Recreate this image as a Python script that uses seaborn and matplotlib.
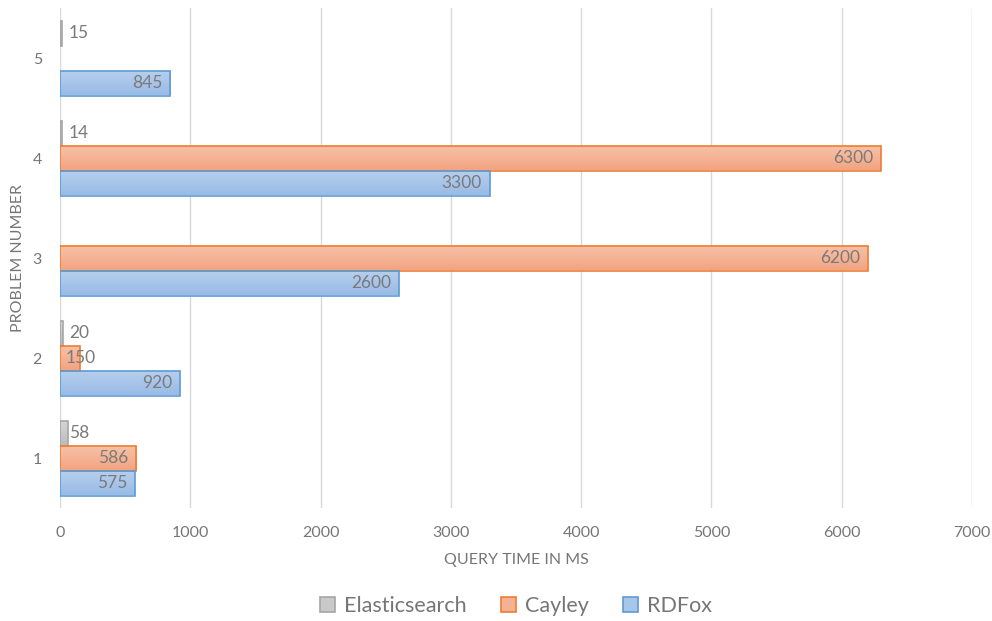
import matplotlib
matplotlib.use("Agg")
import matplotlib.pyplot as plt
import seaborn as sns
import numpy as np
import pandas as pd
from matplotlib.patches import Patch
from matplotlib.colors import to_rgb
from matplotlib.transforms import offset_copy

problems = ["1", "2", "3", "4", "5"]
elasticsearch = [58, 20, np.nan, 14, 15]
cayley = [586, 150, 6200, 6300, np.nan]
rdfox = [575, 920, 2600, 3300, 845]
series_names = ["Elasticsearch", "Cayley", "RDFox"]
x_ticks = [0, 1000, 2000, 3000, 4000, 5000, 6000, 7000]

face = {"Elasticsearch": "#c9c9c9", "Cayley": "#f4b294", "RDFox": "#a8c5ea"}
grad_top = {"Elasticsearch": "#d6d6d6", "Cayley": "#f7c2a8", "RDFox": "#b7cfee"}
grad_bot = {"Elasticsearch": "#bcbcbc", "Cayley": "#f2a482", "RDFox": "#99bbe6"}
edge = {"Elasticsearch": "#a5a5a5", "Cayley": "#ed7d31", "RDFox": "#5b9bd5"}

rows = []
for p, e, c, r in zip(problems, elasticsearch, cayley, rdfox):
    rows.append({"problem": p, "series": "Elasticsearch", "value": e})
    rows.append({"problem": p, "series": "Cayley", "value": c})
    rows.append({"problem": p, "series": "RDFox", "value": r})
df = pd.DataFrame(rows)

sns.set_theme(style="white")
plt.rcParams["font.family"] = ["Lato", "DejaVu Sans"]

text_col = "#767676"

fig = plt.figure(figsize=(9.92, 6.21), dpi=100)
ax = fig.add_axes([60 / 992, 1 - 508 / 621, 912 / 992, 500 / 621])

order = problems[::-1]
sns.barplot(data=df, x="value", y="problem", hue="series", order=order,
            hue_order=series_names, orient="h", width=0.75, ax=ax,
            palette=face, saturation=1, legend=False, zorder=3)

ax.set_xlim(0, 7000)
ax.set_ylim(4.5, -0.5)

# gradient fill + edge per series
for cont, name in zip(ax.containers, series_names):
    c1 = np.array(to_rgb(grad_top[name]))
    c2 = np.array(to_rgb(grad_bot[name]))
    tgrid = np.linspace(0, 1, 64)[:, None, None]
    img = c1 * (1 - tgrid) + c2 * tgrid
    img = np.repeat(img, 2, axis=1)
    for bar in cont:
        w = bar.get_width()
        if not np.isfinite(w):
            continue
        bar.set_edgecolor(edge[name])
        bar.set_linewidth(1.2)
        bar.set_facecolor("none")
        y0 = bar.get_y()
        h = bar.get_height()
        im = ax.imshow(img, extent=(bar.get_x(), bar.get_x() + w, y0 + h, y0),
                       aspect="auto", origin="upper", zorder=2.9, interpolation="bilinear")
        im.set_clip_path(bar)

ax.set_xlim(0, 7000)
ax.set_ylim(4.5, -0.5)
ax.set_xticks(x_ticks)
ax.set_xticklabels([str(t) for t in x_ticks])
ax.grid(axis="x", color="#d9d9d9", linewidth=1, zorder=0)
ax.grid(axis="y", visible=False)
ax.set_axisbelow(True)
for s in ax.spines.values():
    s.set_visible(False)
ax.tick_params(axis="both", length=0, labelsize=11.5, colors=text_col)
ax.tick_params(axis="x", pad=13)
ax.tick_params(axis="y", pad=13)
ax.set_xlabel("QUERY TIME IN MS", fontsize=11.5, color=text_col)
ax.set_ylabel("PROBLEM NUMBER", fontsize=11.5, color=text_col)
ax.xaxis.set_label_coords(0.5, -(553 - 508) / 500, transform=ax.transAxes)
ax.xaxis.label.set_va("top")
ax.yaxis.set_label_coords(-(60 - 25) / 912, 0.5)

# data labels
fig.canvas.draw()
renderer = fig.canvas.get_renderer()
for cont, name in zip(ax.containers, series_names):
    for bar in cont:
        w = bar.get_width()
        if not np.isfinite(w):
            continue
        yc = bar.get_y() + bar.get_height() / 2
        label = str(int(round(w)))
        px = ax.transData.transform((w, 0))[0] - ax.transData.transform((0, 0))[0]
        t = ax.text(w, yc, label, fontsize=12.5, color="#7a7a7a", va="center", zorder=5)
        bb = t.get_window_extent(renderer)
        if px > bb.width + 14:
            t.set_ha("right")
            t.set_transform(offset_copy(ax.transData, fig=fig, x=-8, y=0, units="dots"))
        else:
            t.set_position((0, yc))
            t.set_ha("left")
            t.set_transform(offset_copy(ax.transData, fig=fig, x=9 if w < 100 else 6, y=0, units="dots"))

handles = [Patch(facecolor=face[n], edgecolor=edge[n], linewidth=1.2, label=n) for n in series_names]
fig.legend(handles=handles, loc="center", bbox_to_anchor=(0.52, 1 - 606 / 621), ncol=3,
           frameon=False, fontsize=15.5, handlelength=0.7, handleheight=0.7,
           handletextpad=0.4, columnspacing=1.6, labelcolor=text_col)

fig.savefig("out.png", dpi=100)
